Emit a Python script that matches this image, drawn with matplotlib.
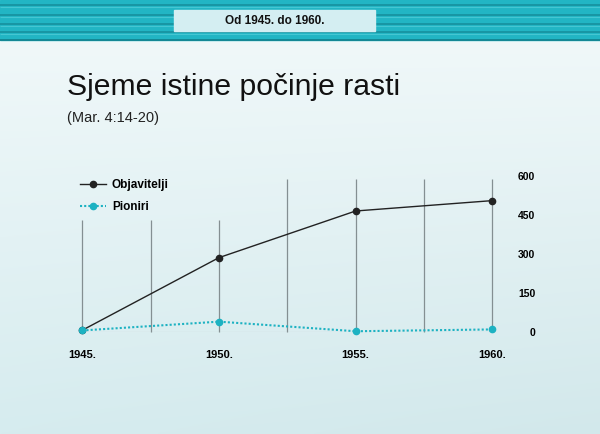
#!/usr/bin/env python3
# -*- coding=utf-8 -*-
import numpy as np
from matplotlib import pyplot as plt
from matplotlib.patches import Rectangle

plt.rcParams['font.family'] = ['Liberation Sans', 'DejaVu Sans']

# podaci
godine = [1945, 1950, 1955, 1960]
godine_oznake = ['1945.', '1950.', '1955.', '1960.']
objavitelji = [5, 285, 465, 505]
pioniri = [4, 38, 1, 8]
y_oznake = [0, 150, 300, 450, 600]

# okomite linije (položaj i visina)
mreza_x = [1945, 1947.5, 1950, 1952.5, 1955, 1957.5, 1960]
mreza_vis = [430, 430, 430, 588, 588, 588, 588]

W, H = 600, 434
fig = plt.figure(figsize=(W / 100, H / 100), dpi=100)

# pozadina u pikselima
bg = fig.add_axes([0, 0, 1, 1])
bg.set_xlim(0, W)
bg.set_ylim(H, 0)
bg.axis('off')

top = np.array([0xf0, 0xf8, 0xf9]) / 255
bot = np.array([0xd6, 0xec, 0xef]) / 255
t = np.linspace(0, 1, 200)[:, None, None]
sx = np.linspace(0, 1, 300)[None, :, None]
grad = top * (1 - t) + bot * t - 0.015 * sx * t
bg.imshow(np.clip(grad, 0, 1), extent=(0, W, H, 40), aspect='auto', zorder=0)

bg.add_patch(Rectangle((0, 0), W, 40, color='#22b5c4', zorder=1))
for yy in [5, 15, 23.5, 32]:
    bg.hlines(yy, 0, W, color='#158d9b', lw=1.1, zorder=2)
    bg.hlines(yy + 2, 0, W, color='#45c6d2', lw=0.8, zorder=2)
bg.hlines(39.5, 0, W, color='#127f8c', lw=1.2, zorder=2)

bg.add_patch(Rectangle((174, 10), 201, 21, color='#d4eef2', zorder=3))
bg.text(274.5, 20.5, 'Od 1945. do 1960.', ha='center', va='center',
        fontsize=8.5, fontweight='bold', color='#111111', zorder=4)

bg.text(67, 95, 'Sjeme istine počinje rasti', ha='left', va='baseline',
        fontsize=21.7, color='#111111')
bg.text(67, 118, '(Mar. 4:14-20)', ha='left', va='center',
        fontsize=10.5, color='#222222')

# graf
ax = fig.add_axes([82.3 / W, 102.5 / H, 410 / W, 155.5 / H])
ax.set_facecolor('none')
ax.set_xlim(1945, 1960)
ax.set_ylim(0, 600)
for s in ax.spines.values():
    s.set_visible(False)

ax.vlines(mreza_x, -3, mreza_vis, color='#848f92', lw=0.9, zorder=1,
          clip_on=False)
ax.axhline(0, color='#b9c3c5', lw=0.8, zorder=1)

ax.plot(godine, objavitelji, color='#222222', lw=1.0, marker='o',
        markersize=4.5, clip_on=False, zorder=3, label='Objavitelji')
ax.plot(godine, pioniri, color='#1db2c2', lw=1.5, linestyle=(0, (1, 1)),
        marker='o', markersize=4.5, clip_on=False, zorder=3, label='Pioniri')

ax.set_xticks(godine)
ax.set_xticklabels(godine_oznake, fontsize=8, fontweight='bold')
ax.tick_params(axis='x', length=0, pad=13)

ax.yaxis.tick_right()
ax.set_yticks(y_oznake)
ax.set_yticklabels([str(v) for v in y_oznake], fontsize=7.5, fontweight='bold')
ax.tick_params(axis='y', length=0, pad=31)
for lab in ax.get_yticklabels():
    lab.set_horizontalalignment('right')

leg = ax.legend(loc='upper left', bbox_to_anchor=(80 / W, 1 - 179 / H),
                bbox_transform=fig.transFigure, frameon=False,
                prop={'size': 8.5, 'weight': 'bold'}, handlelength=2.2,
                handletextpad=0.5, labelspacing=0.85, borderpad=0,
                borderaxespad=0)

plt.savefig('out.png', dpi=100)
